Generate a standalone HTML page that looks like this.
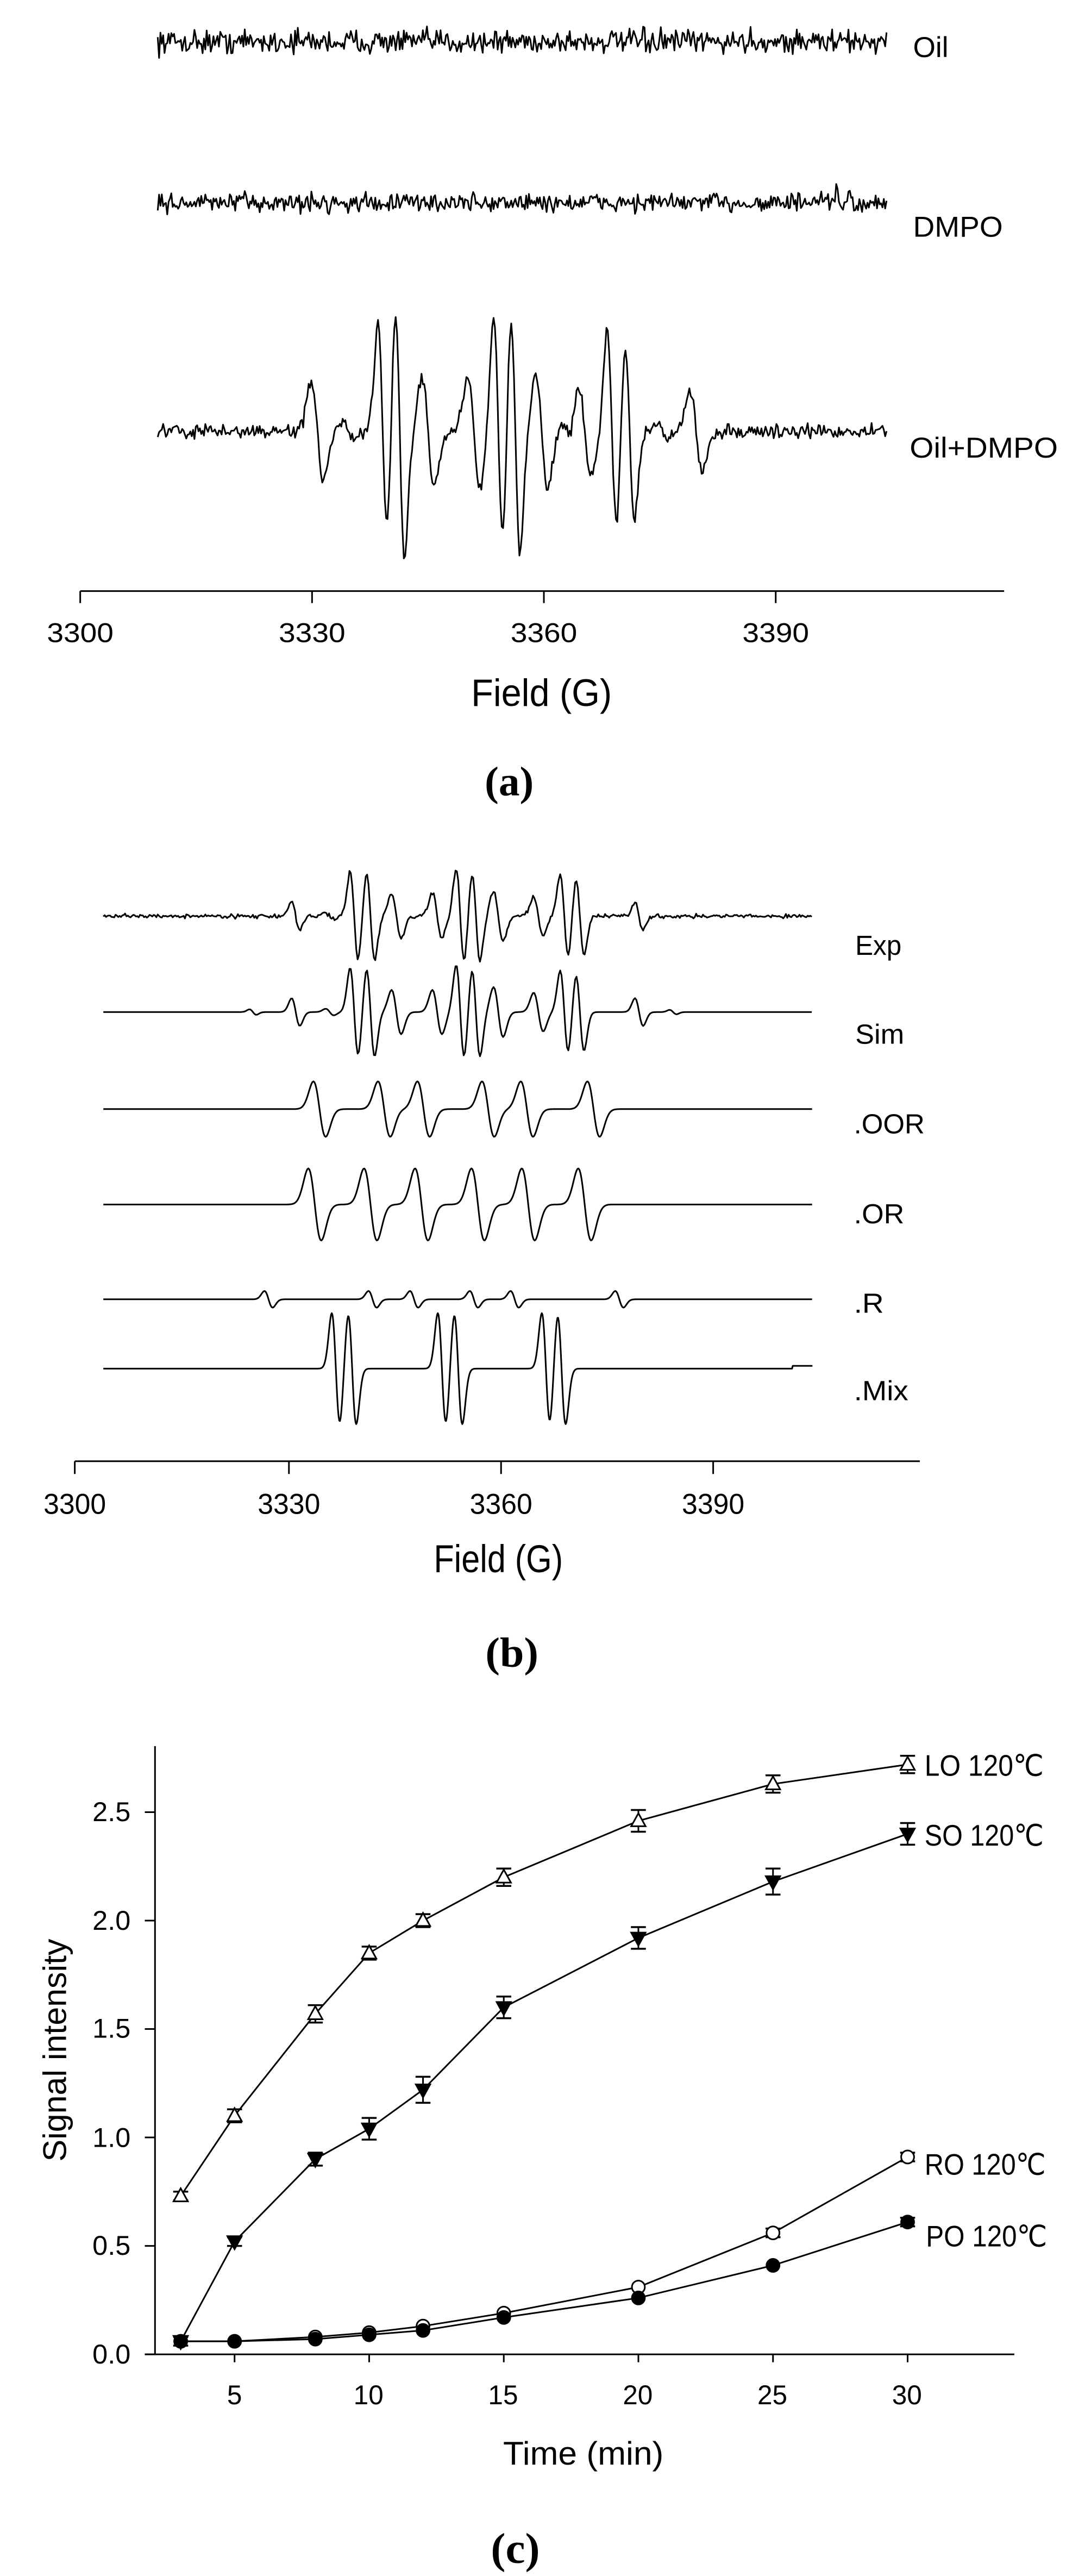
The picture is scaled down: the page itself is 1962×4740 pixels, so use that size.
<!DOCTYPE html>
<html><head><meta charset="utf-8">
<style>
html,body{margin:0;padding:0;background:#fff;}
svg{display:block;}
text{font-family:"Liberation Sans",sans-serif;fill:#000;}
.cap{font-family:"Liberation Serif",serif;font-weight:bold;}
path,line,polyline,polygon,circle,ellipse{vector-effect:non-scaling-stroke;}
</style></head>
<body>
<svg id="s" xmlns="http://www.w3.org/2000/svg" width="1962" height="4740" viewBox="0 0 1962 4740">
<rect width="1962" height="4740" fill="#fff"/>
<g id="ga" transform="scale(1.2513,0.9566)">
  <line x1="118" y1="1137" x2="1477" y2="1137" stroke="#000" stroke-width="3"/>
  <g stroke="#000" stroke-width="3">
    <line x1="118" y1="1137" x2="118" y2="1160"/><line x1="459" y1="1137" x2="459" y2="1160"/>
    <line x1="800" y1="1137" x2="800" y2="1160"/><line x1="1141" y1="1137" x2="1141" y2="1160"/>
  </g>
  <g font-size="52" text-anchor="middle">
    <text x="118" y="1235" textLength="98" lengthAdjust="spacingAndGlyphs">3300</text>
    <text x="459" y="1235" textLength="98" lengthAdjust="spacingAndGlyphs">3330</text>
    <text x="800" y="1235" textLength="98" lengthAdjust="spacingAndGlyphs">3360</text>
    <text x="1141" y="1235" textLength="98" lengthAdjust="spacingAndGlyphs">3390</text>
  </g>
  <text x="693" y="1358" font-size="74" textLength="207" lengthAdjust="spacingAndGlyphs">Field (G)</text>
  <text x="1343" y="110" font-size="55" textLength="52" lengthAdjust="spacingAndGlyphs">Oil</text>
  <text x="1343" y="455" font-size="55" textLength="132" lengthAdjust="spacingAndGlyphs">DMPO</text>
  <text x="1338" y="880" font-size="55" textLength="218" lengthAdjust="spacingAndGlyphs">Oil+DMPO</text>
  <text class="cap" x="713" y="1530" font-size="80" textLength="72" lengthAdjust="spacingAndGlyphs">(a)</text>
</g>
<g id="gb" transform="translate(0,1500) scale(1.2513,1.0204)">
  <line x1="110" y1="1165" x2="1353" y2="1165" stroke="#000" stroke-width="3"/>
  <g stroke="#000" stroke-width="3">
    <line x1="110" y1="1165" x2="110" y2="1188"/><line x1="425" y1="1165" x2="425" y2="1188"/>
    <line x1="737" y1="1165" x2="737" y2="1188"/><line x1="1049" y1="1165" x2="1049" y2="1188"/>
  </g>
  <g font-size="52" text-anchor="middle">
    <text x="110" y="1260" textLength="92" lengthAdjust="spacingAndGlyphs">3300</text>
    <text x="425" y="1260" textLength="92" lengthAdjust="spacingAndGlyphs">3330</text>
    <text x="737" y="1260" textLength="92" lengthAdjust="spacingAndGlyphs">3360</text>
    <text x="1049" y="1260" textLength="92" lengthAdjust="spacingAndGlyphs">3390</text>
  </g>
  <text x="638" y="1365" font-size="70" textLength="190" lengthAdjust="spacingAndGlyphs">Field (G)</text>
  <g font-size="50">
    <text x="1258" y="252" textLength="68" lengthAdjust="spacingAndGlyphs">Exp</text>
    <text x="1258" y="412" textLength="72" lengthAdjust="spacingAndGlyphs">Sim</text>
    <text x="1256" y="574" textLength="104" lengthAdjust="spacingAndGlyphs">.OOR</text>
    <text x="1256" y="736" textLength="74" lengthAdjust="spacingAndGlyphs">.OR</text>
    <text x="1256" y="897" textLength="44" lengthAdjust="spacingAndGlyphs">.R</text>
    <text x="1256" y="1055" textLength="80" lengthAdjust="spacingAndGlyphs">.Mix</text>
  </g>
  <text class="cap" x="714" y="1535" font-size="76" textLength="78" lengthAdjust="spacingAndGlyphs">(b)</text>
</g>
<g id="gc" transform="translate(0,3100) scale(1.2513,1.0459)">
  <g stroke="#000" stroke-width="3" fill="none">
    <line x1="228" y1="108" x2="228" y2="1178"/>
    <line x1="213" y1="1178" x2="1492" y2="1178"/>
  </g>
  <g id="cticks" stroke="#000" stroke-width="3"></g>
  <g font-size="48" text-anchor="end">
    <text x="192" y="1194" textLength="56" lengthAdjust="spacingAndGlyphs">0.0</text>
    <text x="192" y="1003" textLength="56" lengthAdjust="spacingAndGlyphs">0.5</text>
    <text x="192" y="813" textLength="56" lengthAdjust="spacingAndGlyphs">1.0</text>
    <text x="192" y="621" textLength="56" lengthAdjust="spacingAndGlyphs">1.5</text>
    <text x="192" y="431" textLength="56" lengthAdjust="spacingAndGlyphs">2.0</text>
    <text x="192" y="240" textLength="56" lengthAdjust="spacingAndGlyphs">2.5</text>
  </g>
  <g font-size="48" text-anchor="middle">
    <text x="345" y="1266" textLength="22" lengthAdjust="spacingAndGlyphs">5</text>
    <text x="542" y="1266" textLength="44" lengthAdjust="spacingAndGlyphs">10</text>
    <text x="740" y="1266" textLength="44" lengthAdjust="spacingAndGlyphs">15</text>
    <text x="938" y="1266" textLength="44" lengthAdjust="spacingAndGlyphs">20</text>
    <text x="1136" y="1266" textLength="44" lengthAdjust="spacingAndGlyphs">25</text>
    <text x="1334" y="1266" textLength="44" lengthAdjust="spacingAndGlyphs">30</text>
  </g>
  <text x="858" y="1372" font-size="58" text-anchor="middle" textLength="236" lengthAdjust="spacingAndGlyphs">Time (min)</text>
  <text transform="translate(97,643) rotate(-90)" font-size="48" text-anchor="middle" textLength="392" lengthAdjust="spacingAndGlyphs">Signal intensity</text>
  <g id="cdata"></g>
  <g font-size="52">
    <text x="1360" y="160" textLength="175" lengthAdjust="spacingAndGlyphs">LO 120℃</text>
    <text x="1360" y="283" textLength="175" lengthAdjust="spacingAndGlyphs">SO 120℃</text>
    <text x="1360" y="862" textLength="178" lengthAdjust="spacingAndGlyphs">RO 120℃</text>
    <text x="1362" y="988" textLength="178" lengthAdjust="spacingAndGlyphs">PO 120℃</text>
  </g>
  <text class="cap" x="722" y="1545" font-size="76" textLength="72" lengthAdjust="spacingAndGlyphs">(c)</text>
</g>
</svg>
<script>
(function(){
var NS="http://www.w3.org/2000/svg";
var seed=12345;function rnd(){seed=(seed*16807)%2147483647;return seed/2147483647;}
function gauss(){return (rnd()+rnd()+rnd()-1.5)*1.4;}
function dg(x,c,s,A){var u=(c-x)/s;return A*u*Math.exp(0.5-u*u/2);}
function trace(g,x0,x1,base,lines,s,noise,step,extra){
  var d="";for(var x=x0;x<=x1;x+=step){var v=0;for(var i=0;i<lines.length;i++){var L=lines[i];v+=dg(x,L[0],L[2]||s,L[1]);}
    if(extra)v+=extra(x);
    v+=noise*gauss();var y=base-v;d+=(d?"L":"M")+x.toFixed(1)+" "+y.toFixed(1);}
  var p=document.createElementNS(NS,"path");p.setAttribute("d",d);p.setAttribute("fill","none");p.setAttribute("stroke","#000");p.setAttribute("stroke-width","3");p.setAttribute("stroke-linejoin","round");g.appendChild(p);}
var ga=document.getElementById("ga"),gb=document.getElementById("gb");
trace(ga,232,1305,80,[],9,16,2);
trace(ga,232,1305,390,[],9,13,2,function(x){return (x>1225&&x<1260)?22*Math.sin((x-1225)/3):0;});
var la=[[467,95,9],[512,20,8],[563,210,7],[588,245,7],[630,105,9],[697,105,9],[733,230,7],[758,235,7],[797,110,9],[832,20,8],[860,85,9],[900,190,7],[926,170,7],[975,15,8],[1024,80,9]];
trace(ga,232,1305,830,la,8,9,2);
var lb=[[435,25,6],[485,6,6],[521,80,6],[545,80,6],[583,40,7],[643,40,7],[677,85,6],[700,80,6],[733,45,7],[792,35,7],[830,75,6],[853,70,6],[940,25,6]];
trace(gb,152,1195,182,lb,6,2.5,2);
var lbs=lb.concat([[372,5,5],[990,4,5]]);
trace(gb,152,1195,355,lbs,6,0,2);
var oor=[470,565,623,718,775,873].map(function(c){return [c,50,9];});
trace(gb,152,1195,530,oor,9,0,1.5);
var orr=[463,545,620,703,777,860].map(function(c){return [c,65,9.5];});
trace(gb,152,1195,702,orr,9,0,1.5);
var rr=[395,548,609,697,757,911].map(function(c){return [c,15,6];});
trace(gb,152,1195,873,rr,6,0,1.5);
var mix=[494,518,650,674,803,826].map(function(c){return [c,100,6];});
trace(gb,152,1195,998,mix,6,0,1,function(x){return x>=1166?5:0;});
var gc=document.getElementById("cdata"),ct=document.getElementById("cticks");
function X(t){return 345+(t-5)*39.6;}function Y(v){return 1178-v*381.5;}
function el(p,tag,at){var e=document.createElementNS(NS,tag);for(var k in at)e.setAttribute(k,at[k]);p.appendChild(e);return e;}
[0,0.5,1,1.5,2,2.5].forEach(function(v){el(ct,"line",{x1:213,y1:Y(v),x2:228,y2:Y(v)});});
[5,10,15,20,25,30].forEach(function(t){el(ct,"line",{x1:X(t),y1:1178,x2:X(t),y2:1192});});
var T=[3,5,8,10,12,15,20,25,30];
var S=[
 {v:[0.73,1.10,1.57,1.85,2.00,2.20,2.46,2.63,2.72],e:[0.02,0.03,0.04,0.03,0.03,0.04,0.05,0.04,0.04],m:"tri",f:"#fff"},
 {v:[0.06,0.52,0.90,1.04,1.22,1.60,1.92,2.18,2.40],e:[0.02,0.02,0.03,0.05,0.06,0.05,0.05,0.06,0.05],m:"itri",f:"#000"},
 {v:[0.06,0.06,0.08,0.10,0.13,0.19,0.31,0.56,0.91],e:[0.01,0.01,0.01,0.01,0.01,0.01,0.01,0.02,0.02],m:"circ",f:"#fff"},
 {v:[0.06,0.06,0.07,0.09,0.11,0.17,0.26,0.41,0.61],e:[0.01,0.01,0.01,0.01,0.01,0.01,0.01,0.01,0.02],m:"circ",f:"#000"}];
S.forEach(function(s){
  var pts=T.map(function(t,i){return X(t)+","+Y(s.v[i]);}).join(" ");
  el(gc,"polyline",{points:pts,fill:"none",stroke:"#000","stroke-width":3});
});
var rx=9.5,ry=11.4;
S.forEach(function(s){
  T.forEach(function(t,i){var x=X(t),y=Y(s.v[i]),e=s.e[i]*381.5;
    if(e>5){el(gc,"line",{x1:x,y1:y-e,x2:x,y2:y+e,stroke:"#000","stroke-width":3});
      el(gc,"line",{x1:x-11,y1:y-e,x2:x+11,y2:y-e,stroke:"#000","stroke-width":3.5});
      el(gc,"line",{x1:x-11,y1:y+e,x2:x+11,y2:y+e,stroke:"#000","stroke-width":3.5});}
    if(s.m=="circ")el(gc,"ellipse",{cx:x,cy:y,rx:rx,ry:ry,fill:s.f,stroke:"#000","stroke-width":3});
    else if(s.m=="tri")el(gc,"polygon",{points:x+","+(y-ry-2)+" "+(x+rx+1)+","+(y+ry-2)+" "+(x-rx-1)+","+(y+ry-2),fill:s.f,stroke:"#000","stroke-width":3});
    else el(gc,"polygon",{points:x+","+(y+ry+2)+" "+(x+rx+1)+","+(y-ry+2)+" "+(x-rx-1)+","+(y-ry+2),fill:s.f,stroke:"#000","stroke-width":3});
  });
});
})();
</script>
</body></html>
